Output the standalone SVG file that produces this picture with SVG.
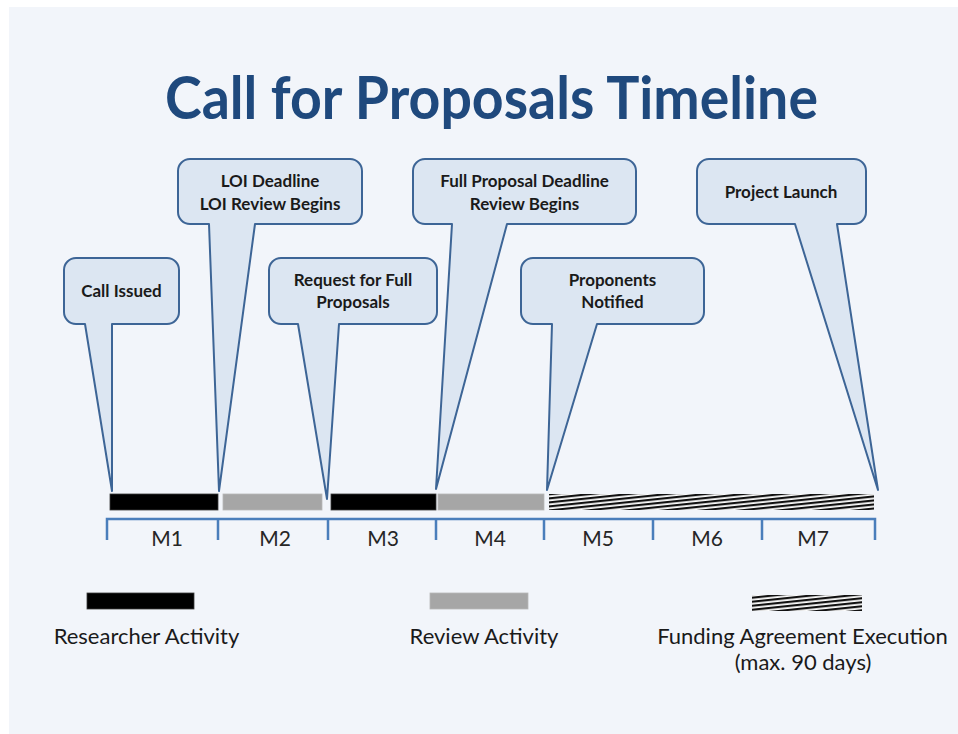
<svg xmlns="http://www.w3.org/2000/svg" width="958" height="734" viewBox="0 0 958 734">
  <style>
    .callout { fill: #dce6f2; stroke: #3d6596; stroke-width: 2; stroke-linejoin: round; }
    .ctext { font-family: Lato, "Liberation Sans", sans-serif; font-weight: bold; font-size: 17px; fill: #1a1a1a; text-anchor: middle; }
    .month { font-family: Lato, "Liberation Sans", sans-serif; font-size: 21px; fill: #262626; text-anchor: middle; }
    .legend { font-family: Lato, "Liberation Sans", sans-serif; font-size: 22px; fill: #1a1a1a; text-anchor: middle; }
    .axis { fill: none; stroke: #4a7ebb; stroke-width: 2.5; }
    .res { fill: #000000; stroke: #3a3a3a; stroke-width: 0.8; }
    .rev { fill: #a6a6a6; stroke: #b8b8b8; stroke-width: 0.8; }
    .fund { fill: url(#hatch); }
  </style>
  <defs>
    <pattern id="hatch" patternUnits="userSpaceOnUse" width="40" height="4" patternTransform="rotate(-6)">
      <rect width="40" height="4" fill="#ffffff"/>
      <rect y="0" width="40" height="2.2" fill="#111111"/>
    </pattern>
  </defs>
  <rect x="9" y="7" width="949" height="727" fill="#f2f5fa"/>

  <g id="title">
    <text x="491.5" y="119" font-family="Lato, 'Liberation Sans', sans-serif" font-weight="bold" font-size="59" fill="#1f497d" text-anchor="middle" textLength="653" lengthAdjust="spacingAndGlyphs">Call for Proposals Timeline</text>
  </g>

  <g id="callout-call-issued">
    <path class="callout" d="M76,258 H167 A12,12 0 0 1 179,270 V312 A12,12 0 0 1 167,324 H112 L112,491 L85,324 H76 A12,12 0 0 1 64,312 V270 A12,12 0 0 1 76,258 Z"/>
    <text class="ctext" x="121.5" y="297">Call Issued</text>
  </g>
  <g id="callout-loi-deadline">
    <path class="callout" d="M190,159 H350 A12,12 0 0 1 362,171 V212 A12,12 0 0 1 350,224 H255 L219,491 L209,224 H190 A12,12 0 0 1 178,212 V171 A12,12 0 0 1 190,159 Z"/>
    <text class="ctext" x="270" y="187">LOI Deadline</text>
    <text class="ctext" x="270" y="210">LOI Review Begins</text>
  </g>
  <g id="callout-request-full">
    <path class="callout" d="M281,258 H425 A12,12 0 0 1 437,270 V312 A12,12 0 0 1 425,324 H339 L327,499 L298,324 H281 A12,12 0 0 1 269,312 V270 A12,12 0 0 1 281,258 Z"/>
    <text class="ctext" x="353" y="286">Request for Full</text>
    <text class="ctext" x="353" y="308">Proposals</text>
  </g>
  <g id="callout-full-proposal-deadline">
    <path class="callout" d="M425,159 H624 A12,12 0 0 1 636,171 V212 A12,12 0 0 1 624,224 H507 L436,489 L452,224 H425 A12,12 0 0 1 413,212 V171 A12,12 0 0 1 425,159 Z"/>
    <text class="ctext" x="524.5" y="187">Full Proposal Deadline</text>
    <text class="ctext" x="524.5" y="210">Review Begins</text>
  </g>
  <g id="callout-proponents-notified">
    <path class="callout" d="M533,258 H692 A12,12 0 0 1 704,270 V312 A12,12 0 0 1 692,324 H597 L547,490 L552,324 H533 A12,12 0 0 1 521,312 V270 A12,12 0 0 1 533,258 Z"/>
    <text class="ctext" x="612.5" y="286">Proponents</text>
    <text class="ctext" x="612.5" y="308">Notified</text>
  </g>
  <g id="callout-project-launch">
    <path class="callout" d="M709,159 H854 A12,12 0 0 1 866,171 V212 A12,12 0 0 1 854,224 H837 L878,490 L795,224 H709 A12,12 0 0 1 697,212 V171 A12,12 0 0 1 709,159 Z"/>
    <text class="ctext" x="781" y="198">Project Launch</text>
  </g>

  <g id="bars">
    <rect class="res" x="110" y="494" width="108" height="16"/>
    <rect class="rev" x="223" y="494" width="99" height="16"/>
    <rect class="res" x="331" y="494" width="105" height="16"/>
    <rect class="rev" x="438" y="494" width="106" height="16"/>
    <rect class="fund" x="549" y="494" width="325" height="16"/>
  </g>

  <g id="connectors">
    <path class="axis" d="M107,540 V519 H875 V540 M218,519 V540 M328,519 V540 M436,519 V540 M544,519 V540 M653,519 V540 M762,519 V540"/>
  </g>

  <g id="months">
    <text class="month" x="167" y="546">M1</text>
    <text class="month" x="275" y="546">M2</text>
    <text class="month" x="383" y="546">M3</text>
    <text class="month" x="490" y="546">M4</text>
    <text class="month" x="598" y="546">M5</text>
    <text class="month" x="707" y="546">M6</text>
    <text class="month" x="813" y="546">M7</text>
  </g>

  <g id="legend-researcher">
    <rect class="res" x="87" y="593" width="107" height="16"/>
    <text class="legend" x="146.5" y="644">Researcher Activity</text>
  </g>
  <g id="legend-review">
    <rect class="rev" x="430" y="593" width="98" height="16"/>
    <text class="legend" x="484" y="644">Review Activity</text>
  </g>
  <g id="legend-funding">
    <rect class="fund" x="752" y="595" width="110" height="16"/>
    <text class="legend" x="802.5" y="644">Funding Agreement Execution</text>
    <text class="legend" x="803" y="670">(max. 90 days)</text>
  </g>
</svg>
